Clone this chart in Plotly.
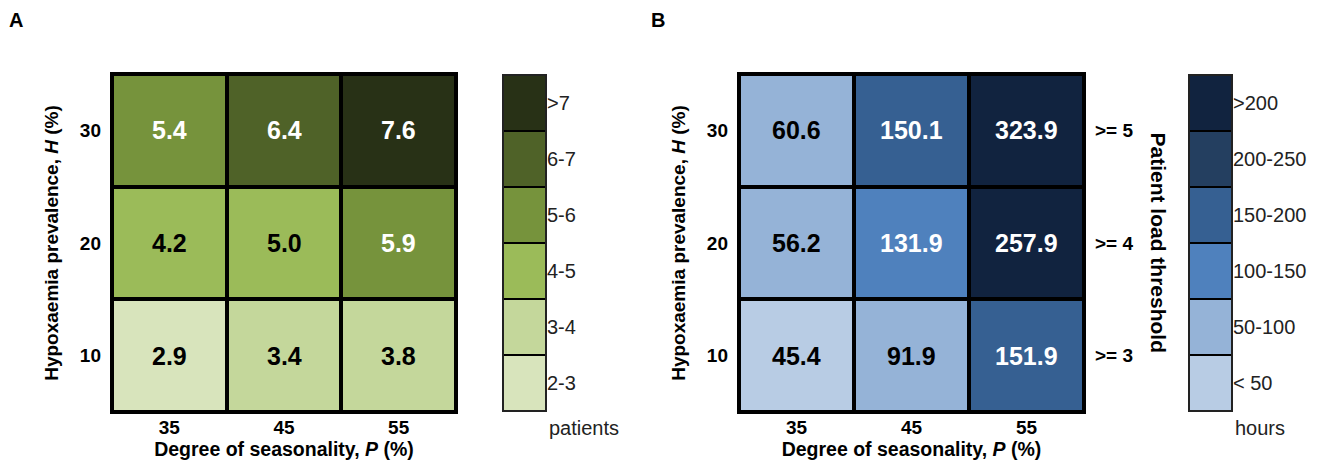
import numpy as np
import plotly.graph_objects as go

# ---------------- data ----------------
seasonality = ["35", "45", "55"]          # x categories, P (%)
prevalence = ["10", "20", "30"]           # y categories, H (%) (bottom -> top)

patients = [[2.9, 3.4, 3.8],              # H = 10
            [4.2, 5.0, 5.9],              # H = 20
            [5.4, 6.4, 7.6]]              # H = 30

hours = [[45.4, 91.9, 151.9],
         [56.2, 131.9, 257.9],
         [60.6, 150.1, 323.9]]

thresholds = [">= 3", ">= 4", ">= 5"]

patient_bins = ["2-3", "3-4", "4-5", "5-6", "6-7", ">7"]
patient_edges = [3, 4, 5, 6, 7]
hour_bins = ["< 50", "50-100", "100-150", "150-200", "200-250", ">200"]
hour_edges = [50, 100, 150, 200, 250]

green = ["#d8e4bc", "#c4d79b", "#9bbb59", "#76933c", "#4f6228", "#283116"]
blue = ["#b8cce4", "#95b3d7", "#4f81bd", "#366092", "#243f60", "#11233f"]

FONT = "Liberation Sans, Arial, sans-serif"
W, H = 1329, 467


def px_x(v):
    return v / W


def px_y(v):
    return 1 - v / H


def discrete_scale(colors):
    n = len(colors)
    cs = []
    for i, c in enumerate(colors):
        cs.append([i / n, c])
        cs.append([(i + 1) / n, c])
    return cs


fig = go.Figure()

panels = [
    dict(vals=patients, edges=patient_edges, bins=patient_bins, colors=green,
         white_from=3, fmt="{:.1f}", xa="x", ya="y", cxa="x2", cya="y2",
         dom=(112, 456), cdom=(503, 546), unit="patients"),
    dict(vals=hours, edges=hour_edges, bins=hour_bins, colors=blue,
         white_from=2, fmt="{:.1f}", xa="x3", ya="y3", cxa="x4", cya="y4",
         dom=(739, 1084), cdom=(1189, 1232), unit="hours"),
]

annotations = []
shapes = []
layout_axes = {}
ytop, ybot = 74, 412

for p in panels:
    vals = np.array(p["vals"])
    idx = np.digitize(vals, p["edges"], right=True)
    n = len(p["colors"])
    fig.add_trace(go.Heatmap(
        z=idx.tolist(), x=seasonality, y=prevalence, zmin=-0.5, zmax=n - 0.5,
        colorscale=discrete_scale(p["colors"]), showscale=False,
        xgap=4, ygap=4, hoverinfo="skip",
        xaxis=p["xa"], yaxis=p["ya"]))
    # cell values (category index positions)
    for i in range(len(prevalence)):
        for j in range(len(seasonality)):
            annotations.append(dict(
                x=j, y=i, xref=p["xa"], yref=p["ya"], showarrow=False,
                text="<b>" + p["fmt"].format(vals[i, j]) + "</b>",
                font=dict(family=FONT, size=25,
                          color="white" if idx[i, j] >= p["white_from"] else "black")))
    # legend bar
    fig.add_trace(go.Heatmap(
        z=[[k] for k in range(n)], x=["c"], y=p["bins"], zmin=-0.5, zmax=n - 0.5,
        colorscale=discrete_scale(p["colors"]), showscale=False,
        ygap=2, hoverinfo="skip", xaxis=p["cxa"], yaxis=p["cya"]))
    annotations.append(dict(
        x=px_x(p["cdom"][1] + 1), y=px_y(428), xref="paper", yref="paper",
        xanchor="left", yanchor="middle", showarrow=False, text=p["unit"],
        font=dict(family=FONT, size=20, color="#222")))

    xa_key = "xaxis" + p["xa"][1:]
    ya_key = "yaxis" + p["ya"][1:]
    cxa_key = "xaxis" + p["cxa"][1:]
    cya_key = "yaxis" + p["cya"][1:]
    layout_axes[xa_key] = dict(
        type="category", range=[-0.5, len(seasonality) - 0.5], automargin=False,
        domain=[px_x(p["dom"][0]), px_x(p["dom"][1])], anchor=p["ya"],
        showgrid=False, zeroline=False, ticks="", ticklen=0, ticklabelstandoff=2,
        tickfont=dict(family=FONT, size=19, color="black", weight="bold"),
        title=dict(text="<b>Degree of seasonality, <i>P</i> (%)</b>",
                   font=dict(family=FONT, size=19.5, color="black"), standoff=3),
        showline=False)
    layout_axes[ya_key] = dict(
        type="category", range=[-0.5, len(prevalence) - 0.5], automargin=False,
        domain=[px_y(ybot), px_y(ytop)], anchor=p["xa"],
        showgrid=False, zeroline=False, ticks="", ticklen=0, ticklabelstandoff=10,
        tickfont=dict(family=FONT, size=19, color="black", weight="bold"),
        title=dict(text="<b>Hypoxaemia prevalence, <i>H</i> (%)</b>",
                   font=dict(family=FONT, size=19, color="black"), standoff=16),
        showline=False)
    layout_axes[cxa_key] = dict(
        type="category", range=[-0.5, 0.5], automargin=False,
        domain=[px_x(p["cdom"][0]), px_x(p["cdom"][1])], anchor=p["cya"],
        showticklabels=False, showgrid=False, zeroline=False, ticks="")
    layout_axes[cya_key] = dict(
        type="category", range=[-0.5, n - 0.5], automargin=False,
        domain=[px_y(411), px_y(75)], anchor=p["cxa"], side="right",
        showgrid=False, zeroline=False, ticks="", ticklen=0,
        tickfont=dict(family=FONT, size=20, color="#222"))
    # outer borders
    shapes.append(dict(type="rect", xref=p["xa"] + " domain", yref=p["ya"] + " domain",
                       x0=0, x1=1, y0=0, y1=1, line=dict(color="black", width=4)))
    shapes.append(dict(type="rect", xref=p["cxa"] + " domain", yref=p["cya"] + " domain",
                       x0=0, x1=1, y0=0, y1=1, line=dict(color="#222", width=2)))

# thresholds on the right side of panel B
for i, t in enumerate(thresholds):
    annotations.append(dict(
        x=1.025, y=i, xref="x3 domain", yref="y3", xanchor="left", showarrow=False,
        text="<b>" + t + "</b>", font=dict(family=FONT, size=19, color="black")))
annotations.append(dict(
    x=px_x(1172), y=px_y(243), xref="paper", yref="paper", showarrow=False,
    textangle=90, text="<b>Patient load threshold</b>",
    font=dict(family=FONT, size=21, color="black")))

# panel letters
for letter, xpix in [("A", 7), ("B", 649)]:
    annotations.append(dict(
        x=px_x(xpix), y=px_y(20), xref="paper", yref="paper", xanchor="left",
        yanchor="middle", showarrow=False, text="<b>" + letter + "</b>",
        font=dict(family=FONT, size=20, color="black")))

fig.update_layout(
    width=W, height=H, margin=dict(l=0, r=0, t=0, b=0),
    paper_bgcolor="white", plot_bgcolor="black",
    annotations=annotations, shapes=shapes, showlegend=False,
    **layout_axes)

fig.write_html("out.html", config={"displayModeBar": False},
               post_script="document.body.style.margin='0';document.body.style.padding='0';")
